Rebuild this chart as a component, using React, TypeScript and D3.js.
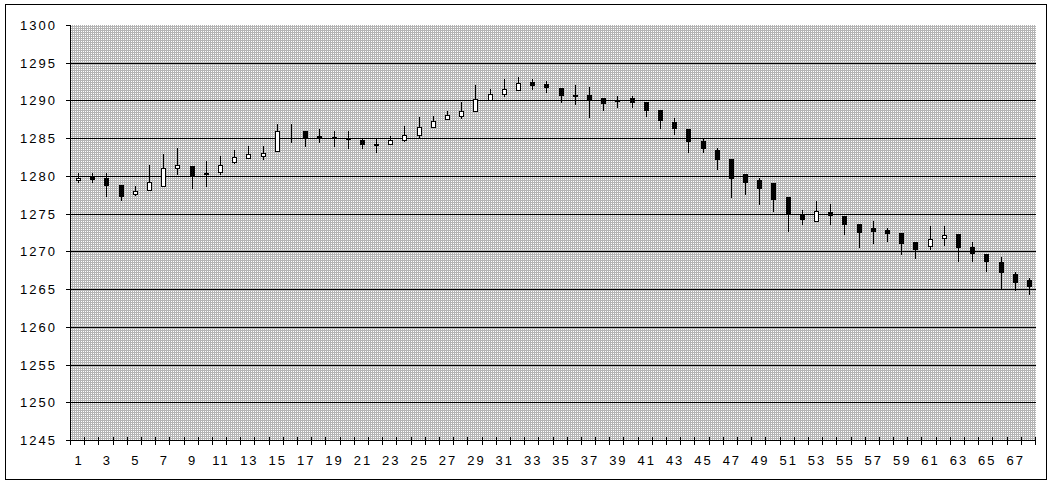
import React from "react";
import * as d3 from "d3";

const categories: number[] = Array.from({ length: 68 }, (_, i) => i + 1);

const openValues: number[] = [
  1279.4, 1279.9, 1279.7, 1278.8, 1277.55, 1278.07, 1278.7, 1281.0, 1281.3, 1280.4,
  1280.55, 1281.9, 1282.37, 1282.6, 1283.3, 1285.5, 1286.0, 1285.3, 1285.2, 1285.07,
  1284.7, 1284.2, 1284.2, 1284.74, 1285.45, 1286.53, 1287.52, 1287.88, 1288.6, 1290.0,
  1290.86, 1291.44, 1292.39, 1292.2, 1291.67, 1290.75, 1290.72, 1290.27, 1290.0, 1290.27,
  1289.73, 1288.67, 1287.2, 1286.28, 1284.69, 1283.5, 1282.3, 1280.3, 1279.4, 1279.0,
  1277.2, 1274.96, 1274.0, 1275.2, 1274.74, 1273.57, 1273.04, 1272.78, 1272.5, 1271.2,
  1270.65, 1271.83, 1272.35, 1270.6, 1269.6, 1268.64, 1267.06, 1266.14,
];
const highValues: number[] = [
  1280.4, 1280.4, 1280.4, 1278.8, 1278.65, 1281.45, 1282.9, 1283.7, 1281.3, 1282.0,
  1282.6, 1283.4, 1283.9, 1283.9, 1286.9, 1286.9, 1286.0, 1286.27, 1285.9, 1286.0,
  1284.9, 1284.87, 1285.35, 1286.67, 1287.75, 1288.0, 1288.56, 1289.82, 1292.07, 1291.53,
  1292.9, 1293.1, 1292.9, 1292.6, 1291.67, 1292.07, 1291.8, 1290.27, 1290.53, 1290.53,
  1289.73, 1288.67, 1287.74, 1286.28, 1284.96, 1283.76, 1282.3, 1280.3, 1279.78, 1279.0,
  1277.2, 1275.52, 1276.7, 1276.3, 1274.74, 1273.57, 1273.96, 1273.04, 1272.5, 1271.2,
  1273.3, 1273.3, 1272.35, 1271.27, 1269.6, 1269.3, 1267.3, 1266.5,
];
const lowValues: number[] = [
  1279.25, 1279.2, 1277.3, 1276.75, 1277.5, 1278.07, 1278.7, 1280.3, 1278.45, 1278.7,
  1280.3, 1281.7, 1282.37, 1282.2, 1283.3, 1284.5, 1283.95, 1284.56, 1283.95, 1283.7,
  1283.7, 1283.16, 1284.2, 1284.65, 1285.18, 1286.53, 1287.52, 1287.7, 1288.6, 1290.0,
  1290.63, 1291.44, 1291.53, 1291.1, 1289.82, 1289.5, 1287.8, 1288.8, 1289.07, 1289.07,
  1288.0, 1286.4, 1285.5, 1283.23, 1283.23, 1280.97, 1277.26, 1277.65, 1276.33, 1275.4,
  1272.7, 1273.6, 1274.0, 1273.6, 1272.3, 1270.6, 1271.13, 1271.35, 1269.7, 1269.17,
  1270.35, 1270.8, 1268.75, 1268.68, 1267.37, 1265.2, 1264.9, 1264.3,
];
const closeValues: number[] = [
  1279.7, 1279.65, 1278.85, 1277.4, 1278.0, 1279.2, 1281.0, 1281.5, 1279.95, 1280.2,
  1281.5, 1282.5, 1282.85, 1283.1, 1285.96, 1285.5, 1285.13, 1285.25, 1285.15, 1285.02,
  1284.2, 1284.15, 1284.7, 1285.44, 1286.53, 1287.34, 1288.02, 1288.65, 1290.13, 1290.8,
  1291.5, 1292.3, 1292.07, 1291.8, 1290.72, 1290.65, 1290.0, 1289.65, 1289.93, 1289.78,
  1288.67, 1287.35, 1286.4, 1284.69, 1283.76, 1282.3, 1279.78, 1279.25, 1278.45, 1277.0,
  1275.0, 1274.26, 1275.3, 1274.78, 1273.6, 1272.57, 1272.7, 1272.43, 1271.13, 1270.35,
  1271.7, 1272.2, 1270.55, 1269.74, 1268.68, 1267.24, 1266.0, 1265.35,
];

const yTicks: number[] = [1245, 1250, 1255, 1260, 1265, 1270, 1275, 1280, 1285, 1290, 1295, 1300];
const xTickLabels: number[] = categories.filter((c) => c % 2 === 1);

const W = 1053;
const H = 485;
const plotLeft = 71;
const plotRight = 1036;
const plotTop = 25;
const plotBottom = 440;
const FONT = "'Liberation Sans', Arial, sans-serif";

export default function App() {
  const x = d3
    .scaleBand<number>()
    .domain(categories)
    .range([plotLeft, plotRight])
    .padding(0);
  const y = d3.scaleLinear().domain([1245, 1300]).range([plotBottom, plotTop]);
  const bw = x.bandwidth();

  const boundaries = d3.range(categories.length + 1).map((i) => plotLeft + i * bw);

  return (
    <div style={{ position: "absolute", left: 0, top: 0 }}>
      <svg width={W} height={H} style={{ display: "block" }} fontFamily={FONT}>
        <defs>
          <pattern id="bgpat" x={0} y={0} width={2} height={2} patternUnits="userSpaceOnUse">
            <rect x={0} y={0} width={2} height={2} fill="#b4b4b4" />
            <rect x={1} y={1} width={1} height={1} fill="#ffffff" />
          </pattern>
        </defs>
        <rect x={0} y={0} width={W} height={H} fill="#ffffff" />
        <rect x={5.5} y={4.5} width={1041} height={475} fill="none" stroke="#000" strokeWidth={1} />

        <rect
          x={plotLeft}
          y={plotTop}
          width={plotRight - plotLeft}
          height={plotBottom - plotTop}
          fill="url(#bgpat)"
          shapeRendering="crispEdges"
        />

        {/* gridlines */}
        {yTicks
          .filter((t) => t !== 1300 && t !== 1245)
          .map((t) => (
            <line
              key={"g" + t}
              x1={plotLeft}
              x2={plotRight}
              y1={Math.round(y(t)) + 0.5}
              y2={Math.round(y(t)) + 0.5}
              stroke="#000"
              strokeWidth={1}
            />
          ))}

        {/* axes */}
        <line x1={plotLeft - 0.5} x2={plotLeft - 0.5} y1={plotTop} y2={plotBottom + 1} stroke="#000" />
        <line x1={plotLeft - 1} x2={plotRight} y1={plotBottom + 0.5} y2={plotBottom + 0.5} stroke="#000" />

        {yTicks.map((t) => (
          <g key={"yt" + t}>
            <line
              x1={plotLeft - 5}
              x2={plotLeft}
              y1={Math.round(y(t)) + 0.5}
              y2={Math.round(y(t)) + 0.5}
              stroke="#000"
            />
            <text
              x={57}
              y={Math.round(y(t)) + 5}
              textAnchor="end"
              fontSize={13}
              letterSpacing={2}
              fill="#000"
            >
              {t}
            </text>
          </g>
        ))}

        {boundaries.map((b, i) => (
          <line
            key={"xt" + i}
            x1={Math.round(b) - 0.5}
            x2={Math.round(b) - 0.5}
            y1={plotBottom - 3}
            y2={plotBottom + 5}
            stroke="#000"
          />
        ))}

        {xTickLabels.map((c) => (
          <text
            key={"xl" + c}
            x={(x(c) as number) + bw / 2 + 1}
            y={465}
            textAnchor="middle"
            fontSize={13}
            letterSpacing={2}
            fill="#000"
          >
            {c}
          </text>
        ))}

        {/* candles */}
        {categories.map((c, i) => {
          const cx = Math.round((x(c) as number) + bw / 2);
          const o = openValues[i];
          const cl = closeValues[i];
          const hi = highValues[i];
          const lo = lowValues[i];
          const yTop = Math.round(y(Math.max(o, cl)));
          const yBot = Math.round(y(Math.min(o, cl)));
          const up = cl > o;
          const h = Math.max(yBot - yTop, 1);
          return (
            <g key={"c" + c} shapeRendering="crispEdges">
              <line
                x1={cx + 0.5}
                x2={cx + 0.5}
                y1={Math.round(y(hi))}
                y2={Math.round(y(lo)) + 1}
                stroke="#000"
                strokeWidth={1}
              />
              {o !== cl &&
                (up ? (
                  <rect
                    x={cx - 2 + 0.5}
                    y={yTop + 0.5}
                    width={4}
                    height={Math.max(h, 2)}
                    fill="#ffffff"
                    stroke="#000"
                    strokeWidth={1}
                  />
                ) : (
                  <rect x={cx - 2} y={yTop} width={5} height={h + 1} fill="#000" />
                ))}
            </g>
          );
        })}
      </svg>
    </div>
  );
}
